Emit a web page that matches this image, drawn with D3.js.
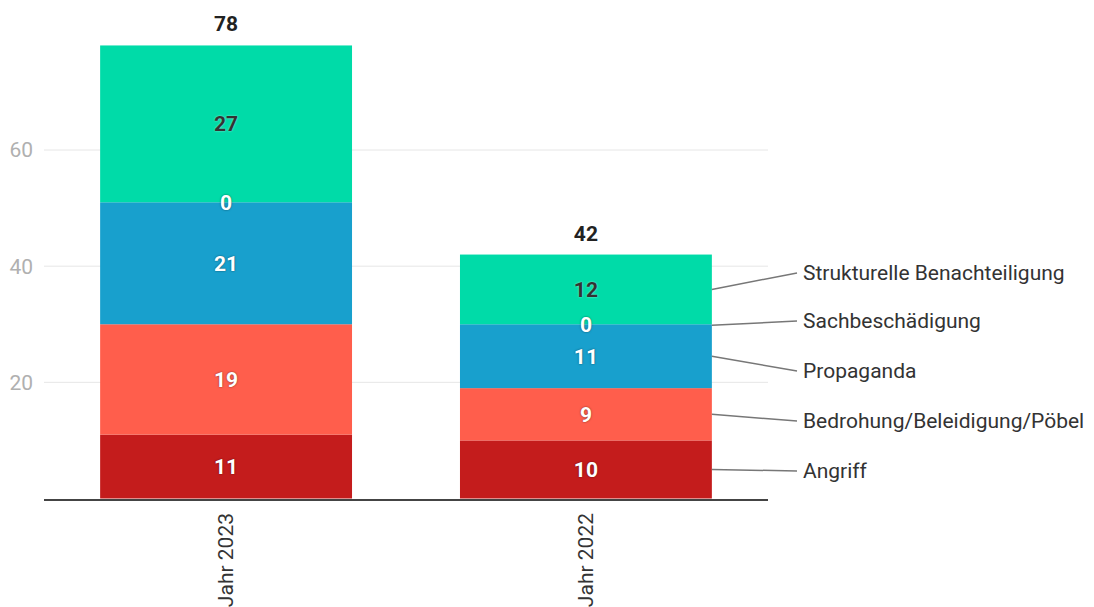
<!DOCTYPE html>
<html>
<head>
<meta charset="utf-8">
<script src="https://cdn.jsdelivr.net/npm/d3@7"></script>
<style>
  body { margin: 0; background: #fff; }
  text { font-family: Roboto, "Noto Sans", sans-serif; }
</style>
</head>
<body>
<script>
// Data
const years = ['Jahr 2023', 'Jahr 2022'];
const categories = ['Angriff', 'Bedrohung/Beleidigung/Pöbel', 'Propaganda', 'Sachbeschädigung', 'Strukturelle Benachteiligung'];
const angriff = [11, 10];
const bedrohung = [19, 9];
const propaganda = [21, 11];
const sachbeschaedigung = [0, 0];
const strukturell = [27, 12];
const colors = ['#c41c1c', '#ff5e4c', '#18a0cd', '#18a0cd', '#00dba8'];
const yTicks = [20, 40, 60];

const width = 1094;
const height = 607;
const fs = 21;

const svg = d3.select('body')
  .append('svg')
  .attr('width', width)
  .attr('height', height);

const series = [angriff, bedrohung, propaganda, sachbeschaedigung, strukturell];
const rows = years.map((y, i) => {
  const r = { year: y };
  categories.forEach((c, k) => { r[c] = series[k][i]; });
  return r;
});

const stack = d3.stack().keys(categories)(rows);

const x = d3.scaleBand()
  .domain(years)
  .range([44, 768])
  .paddingInner(0.3)
  .paddingOuter(0.156);

const y = d3.scaleLinear()
  .domain([0, 60])
  .range([498.5, 150]);

// Gridlines
svg.append('g')
  .selectAll('line')
  .data(yTicks)
  .enter()
  .append('line')
  .attr('x1', 44)
  .attr('x2', 768)
  .attr('y1', d => y(d))
  .attr('y2', d => y(d))
  .attr('stroke', '#e6e6e6')
  .attr('stroke-width', 1);

svg.append('g')
  .selectAll('text')
  .data(yTicks)
  .enter()
  .append('text')
  .attr('x', 33)
  .attr('y', d => y(d))
  .attr('dy', '0.35em')
  .attr('text-anchor', 'end')
  .attr('font-size', fs)
  .attr('fill', '#b0b0b0')
  .text(d => d);

// Bars
const layers = svg.append('g')
  .selectAll('g')
  .data(stack)
  .enter()
  .append('g')
  .attr('fill', (d, i) => colors[i]);

layers.selectAll('rect')
  .data(d => d)
  .enter()
  .append('rect')
  .attr('x', d => x(d.data.year))
  .attr('width', x.bandwidth())
  .attr('y', d => y(d[1]))
  .attr('height', d => y(d[0]) - y(d[1]));

// Baseline
svg.append('line')
  .attr('x1', 44)
  .attr('x2', 768)
  .attr('y1', y(0) + 1.5)
  .attr('y2', y(0) + 1.5)
  .attr('stroke', '#444')
  .attr('stroke-width', 2);

// Segment value labels
stack.forEach((layer, k) => {
  const dark = categories[k] === 'Strukturelle Benachteiligung';
  svg.append('g')
    .selectAll('text')
    .data(layer)
    .enter()
    .append('text')
    .attr('x', d => x(d.data.year) + x.bandwidth() / 2)
    .attr('y', d => y((d[0] + d[1]) / 2))
    .attr('dy', '0.35em')
    .attr('text-anchor', 'middle')
    .attr('font-size', fs)
    .attr('font-weight', 'bold')
    .attr('fill', dark ? '#333' : '#fff')
    .style('text-shadow', dark ? '0 0 2px rgba(255,255,255,0.6)' : '0 0 2px rgba(0,0,0,0.55)')
    .text(d => d[1] - d[0]);
});

// Totals
svg.append('g')
  .selectAll('text')
  .data(rows)
  .enter()
  .append('text')
  .attr('x', d => x(d.year) + x.bandwidth() / 2)
  .attr('y', d => y(d3.sum(categories, c => d[c])) - 14)
  .attr('text-anchor', 'middle')
  .attr('font-size', fs)
  .attr('font-weight', 'bold')
  .attr('fill', '#222')
  .text(d => d3.sum(categories, c => d[c]));

// X labels
svg.append('g')
  .selectAll('text')
  .data(years)
  .enter()
  .append('text')
  .attr('transform', d => `translate(${x(d) + x.bandwidth() / 2 + 7},513) rotate(-90)`)
  .attr('text-anchor', 'end')
  .attr('font-size', fs)
  .attr('fill', '#333')
  .text(d => d);

// Leader labels on the last bar
const last = years[years.length - 1];
const labelY = [478, 428, 378, 328, 280];
const barRight = x(last) + x.bandwidth();
stack.forEach((layer, k) => {
  const d = layer[layer.length - 1];
  const yMid = k === 3 ? y(d[1]) + 1 : y((d[0] + d[1]) / 2);
  svg.append('line')
    .attr('x1', barRight)
    .attr('y1', yMid)
    .attr('x2', 797)
    .attr('y2', labelY[k] - 7)
    .attr('stroke', '#777')
    .attr('stroke-width', 1.5);
  svg.append('text')
    .attr('x', 803)
    .attr('y', labelY[k])
    .attr('font-size', fs)
    .attr('fill', '#333')
    .text(categories[k]);
});
</script>
</body>
</html>
